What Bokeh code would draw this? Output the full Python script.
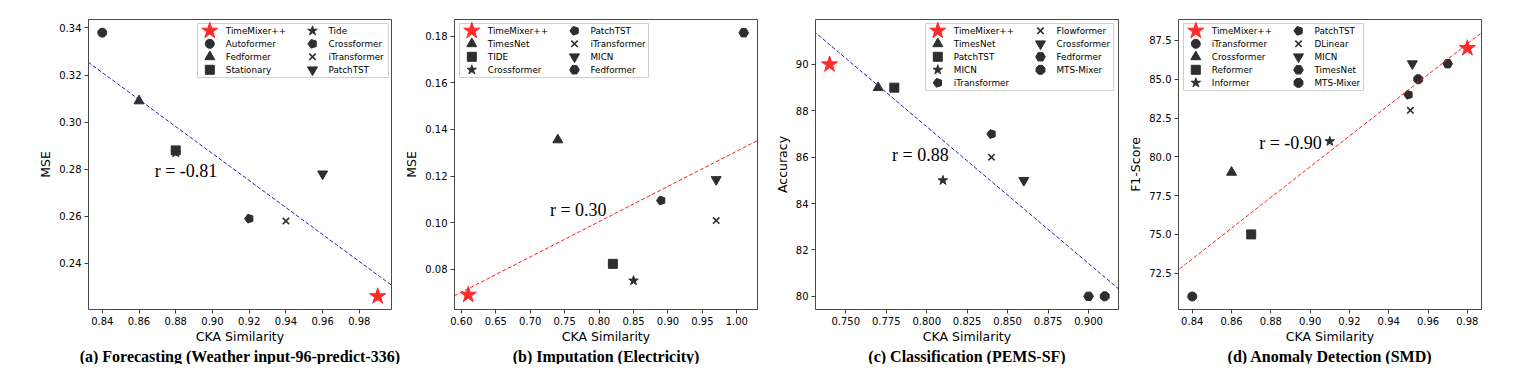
import math
from bokeh.plotting import figure
from bokeh.models import Range1d, FixedTicker, PrintfTickFormatter, Slope, Label, Title
from bokeh.layouts import row
from bokeh.core.properties import value
from bokeh.embed import file_html
from bokeh.resources import INLINE

# ---------------- data ----------------
# (a) Forecasting
a_names = ["TimeMixer++", "Autoformer", "Fedformer", "Stationary", "Tide", "Crossformer", "iTransformer", "PatchTST"]
a_shapes = ["bigstar", "circle", "triangle", "square", "star", "pentagon", "x", "inverted_triangle"]
a_x = [0.99, 0.84, 0.86, 0.88, 0.88, 0.92, 0.94, 0.96]
a_y = [0.226, 0.338, 0.309, 0.288, 0.287, 0.259, 0.258, 0.278]
a_xticks = [0.84, 0.86, 0.88, 0.90, 0.92, 0.94, 0.96, 0.98]
a_yticks = [0.24, 0.26, 0.28, 0.30, 0.32, 0.34]
a_fit = (-0.5735, 0.8028)
a_r = "r = -0.81"

# (b) Imputation
b_names = ["TimeMixer++", "TimesNet", "TIDE", "Crossformer", "PatchTST", "iTransformer", "MICN", "Fedformer"]
b_shapes = ["bigstar", "triangle", "square", "star", "pentagon", "x", "inverted_triangle", "hexagon"]
b_x = [0.61, 0.74, 0.82, 0.85, 0.89, 0.97, 0.97, 1.01]
b_y = [0.069, 0.1355, 0.0823, 0.0751, 0.1095, 0.1009, 0.1185, 0.1815]
b_xticks = [0.60, 0.65, 0.70, 0.75, 0.80, 0.85, 0.90, 0.95, 1.00]
b_yticks = [0.08, 0.10, 0.12, 0.14, 0.16, 0.18]
b_fit = (0.1514, -0.0207)
b_r = "r = 0.30"

# (c) Classification
c_names = ["TimeMixer++", "TimesNet", "PatchTST", "MICN", "iTransformer", "Flowformer", "Crossformer", "Fedformer", "MTS-Mixer"]
c_shapes = ["bigstar", "triangle", "square", "star", "pentagon", "x", "inverted_triangle", "hexagon", "octagon"]
c_x = [0.74, 0.77, 0.78, 0.81, 0.84, 0.84, 0.86, 0.90, 0.91]
c_y = [90, 89, 89, 85, 87, 86, 85, 80, 80]
c_xticks = [0.750, 0.775, 0.800, 0.825, 0.850, 0.875, 0.900]
c_yticks = [80, 82, 84, 86, 88, 90]
c_fit = (-59.03, 134.54)
c_r = "r = 0.88"

# (d) Anomaly Detection
d_names = ["TimeMixer++", "iTransformer", "Crossformer", "Reformer", "Informer", "PatchTST", "DLinear", "MICN", "TimesNet", "MTS-Mixer"]
d_shapes = ["bigstar", "circle", "triangle", "square", "star", "pentagon", "x", "inverted_triangle", "hexagon", "octagon"]
d_x = [0.98, 0.84, 0.86, 0.87, 0.91, 0.95, 0.951, 0.952, 0.97, 0.955]
d_y = [87, 71, 79, 75, 81, 84, 83, 86, 86, 85]
d_xticks = [0.84, 0.86, 0.88, 0.90, 0.92, 0.94, 0.96, 0.98]
d_yticks = [72.5, 75.0, 77.5, 80.0, 82.5, 85.0, 87.5]
d_fit = (99.0, -9.74)
d_r = "r = -0.90"

# ---------------- styling ----------------
DARK = "#2e2e2e"
RED = "#ff2b2b"
FW, FH = 303, 290


def draw_marker(p, shape, x, y, **rk):
    if shape == "bigstar":
        return p.scatter([x], [y], marker="star", size=17, fill_color=RED, line_color=RED, **rk)
    if shape in ("pentagon", "hexagon", "octagon"):
        n = {"pentagon": 5, "hexagon": 6, "octagon": 8}[shape]
        ang = {"pentagon": math.pi / 2, "hexagon": math.pi / 2, "octagon": math.pi / 8}[shape]
        rad = {"pentagon": 4.6, "hexagon": 4.8, "octagon": 4.8}[shape]
        return p.ngon(x=[x], y=[y], radius=rad, radius_units="screen", n=n, angle=ang,
                      fill_color=DARK, line_color=DARK, **rk)
    sizes = {"circle": 9, "triangle": 10, "square": 9, "star": 10, "x": 9, "inverted_triangle": 10}
    if shape == "x":
        return p.scatter([x], [y], marker="x", size=sizes[shape], line_color=DARK, line_width=1.6, **rk)
    return p.scatter([x], [y], marker=shape, size=sizes[shape], fill_color=DARK, line_color=DARK, **rk)


def draw_legend(p, names, shapes, box_left, box_width, nrows):
    p.extra_x_ranges = {"px": Range1d(0, FW)}
    p.extra_y_ranges = {"px": Range1d(0, FH)}
    rk = dict(x_range_name="px", y_range_name="px")
    top = FH - 4
    height = 13 * nrows + 2
    p.quad(left=[box_left], right=[box_left + box_width], top=[top], bottom=[top - height],
           fill_color="white", fill_alpha=0.8, line_color="#cfcfcf", line_width=1, **rk)
    for i, (name, shape) in enumerate(zip(names, shapes)):
        col, r = divmod(i, nrows)
        cy = top - 7.3 - 13 * r
        mx = box_left + 12.3 + 102.7 * col
        tx = box_left + 28.3 + 102.7 * col
        draw_marker(p, shape, mx, cy, **rk)
        p.text(x=[tx], y=[cy], text=[name], text_font=value("DejaVu Sans"), text_font_size="8.8px",
               text_baseline="middle", text_align="left", text_color="black", **rk)


def make_panel(names, shapes, xs, ys, xr, yr, xticks, yticks, xfmt, yfmt, ylabel,
               fit, fit_color, rtext, rpos, leg_left, leg_width, nrows, caption, cap_offset,
               border_left, border_right):
    p = figure(frame_width=FW, frame_height=FH, x_range=Range1d(*xr), y_range=Range1d(*yr),
               output_backend="svg", toolbar_location=None,
               min_border_left=border_left, min_border_right=border_right,
               min_border_top=19, min_border_bottom=4)
    p.xgrid.visible = False
    p.ygrid.visible = False
    p.outline_line_color = "#4a4a4a"
    p.outline_line_width = 1
    for ax, ticks, fmt in ((p.xaxis, xticks, xfmt), (p.yaxis, yticks, yfmt)):
        ax.ticker = FixedTicker(ticks=ticks)
        ax.formatter = PrintfTickFormatter(format=fmt)
        ax.axis_line_color = None
        ax.major_tick_line_color = "#3c3c3c"
        ax.major_tick_out = 4
        ax.major_tick_in = 0
        ax.minor_tick_line_color = None
        ax.major_label_text_font = "DejaVu Sans"
        ax.major_label_text_font_size = "10px"
        ax.major_label_text_color = "black"
        ax.major_label_standoff = 3
        ax.axis_label_text_font = "DejaVu Sans"
        ax.axis_label_text_font_size = "12.5px"
        ax.axis_label_text_font_style = "normal"
        ax.axis_label_text_color = "black"
    p.xaxis.axis_label = "CKA Similarity"
    p.xaxis.axis_label_standoff = 1
    p.yaxis.axis_label = ylabel
    p.yaxis.axis_label_standoff = 3

    p.add_layout(Slope(gradient=fit[0], y_intercept=fit[1], line_color=fit_color,
                       line_dash="4 2", line_width=1))

    for shape, x, y in zip(shapes, xs, ys):
        draw_marker(p, shape, x, y)

    p.add_layout(Label(x=rpos[0], y=rpos[1], text=rtext, text_font="Liberation Serif",
                       text_font_size="18px", text_align="center", text_baseline="middle",
                       text_color="black"))

    draw_legend(p, names, shapes, leg_left, leg_width, nrows)

    p.add_layout(Title(text=caption, align="center", text_font="Liberation Serif",
                       text_font_style="bold", text_font_size="16px", text_color="black",
                       offset=cap_offset, standoff=-1), "below")
    return p


pa = make_panel(a_names, a_shapes, a_x, a_y, (0.8325, 0.9975), (0.2204, 0.3436), a_xticks, a_yticks,
                "%.2f", "%.2f", "MSE", a_fit, "#2323a6", a_r, (0.8856, 0.2794), 109, 191, 4,
                "(a) Forecasting (Weather input-96-predict-336)", -13, 88, 10)
pb = make_panel(b_names, b_shapes, b_x, b_y, (0.59, 1.03), (0.0627, 0.1872), b_xticks, b_yticks,
                "%.2f", "%.2f", "MSE", b_fit, "#ff2020", b_r, (0.7697, 0.1055), 5, 189, 4,
                "(b) Imputation (Electricity)", -9, 48, 2)
pc = make_panel(c_names, c_shapes, c_x, c_y, (0.7313, 0.9185), (79.43, 91.94), c_xticks, c_yticks,
                "%.3f", "%d", "Accuracy", c_fit, "#2323a6", c_r, (0.7961, 86.10), 110, 188, 5,
                "(c) Classification (PEMS-SF)", -7, 56, 2)
pd_ = make_panel(d_names, d_shapes, d_x, d_y, (0.833, 0.9872), (70.16, 88.85), d_xticks, d_yticks,
                 "%.2f", "%.1f", "F1-Score", d_fit, "#ff2020", d_r, (0.89, 80.88), 5, 180, 5,
                 "(d) Anomaly Detection (SMD)", -4, 58, 2)

layout = row(pa, pb, pc, pd_)
open("out.html", "w").write(file_html(layout, INLINE))
